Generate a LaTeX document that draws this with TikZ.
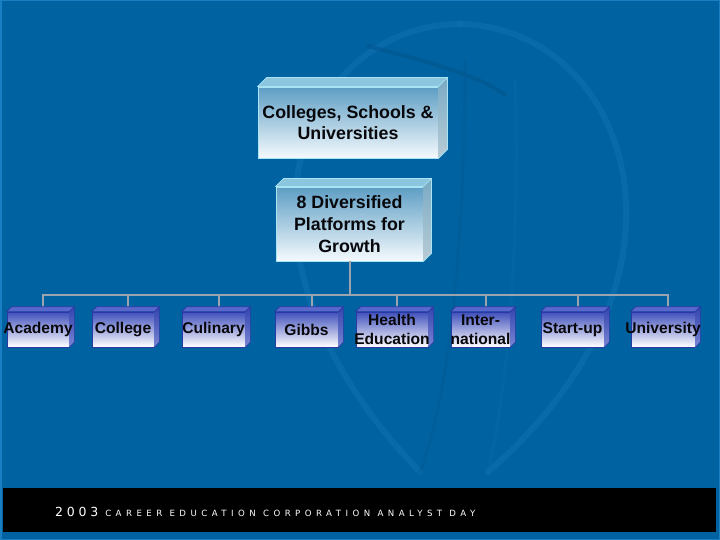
\documentclass[tikz,border=0pt]{standalone}
\usepackage{fontspec}
\setmainfont{Liberation Sans}
\newfontfamily\footA[LetterSpace=30]{DejaVu Sans}
\newfontfamily\footB[LetterSpace=52]{DejaVu Sans}
\usetikzlibrary{calc}
\definecolor{bg}{HTML}{0062A0}
\definecolor{rim}{HTML}{1A7EC2}
\definecolor{wmlight}{HTML}{0E6EAE}
\definecolor{wmdark}{HTML}{00578F}
\definecolor{edgecyan}{HTML}{A8E4F4}
\definecolor{bigtop}{HTML}{5E9EC4}
\definecolor{bigbot}{HTML}{F4FAFD}
\definecolor{bigface}{HTML}{8CC6DE}
\definecolor{bigsideA}{HTML}{7AAAC4}
\definecolor{bigsideB}{HTML}{B8CCD6}
\definecolor{smtop}{HTML}{4050BC}
\definecolor{smbot}{HTML}{FFFFFF}
\definecolor{smface}{HTML}{5A68CC}
\definecolor{smsideA}{HTML}{3444AE}
\definecolor{smsideB}{HTML}{7A86D4}
\definecolor{smedge}{HTML}{2A3AA4}
\definecolor{txt}{HTML}{08080C}
\definecolor{connc}{HTML}{9AA4AE}
\newcommand\zw[1]{\makebox[0pt]{#1}}
\newcommand\boxfaces[6]{%
  \filldraw[fill=#3, draw=#6, line width=0.7pt] (#1.north west) -- ++(#2,-#2) -- ($(#1.north east)+(#2,-#2)$) -- (#1.north east) -- cycle;
  \shade[top color=#4, bottom color=#5] (#1.north east) -- ++(#2,-#2) -- ($(#1.south east)+(#2,-#2)$) -- (#1.south east) -- cycle;
  \draw[#6, line width=0.7pt] (#1.north east) -- ++(#2,-#2) -- ($(#1.south east)+(#2,-#2)$) -- (#1.south east);
}
\begin{document}
\begin{tikzpicture}[x=1pt,y=-1pt,
  bigbox/.style={draw=edgecyan, line width=0.8pt, top color=bigtop, bottom color=bigbot, inner sep=0pt},
  bigtext/.style={inner sep=0pt, align=center, text=txt, font=\bfseries\fontsize{17.8}{21}\selectfont},
  smallbox/.style={draw=smedge, line width=0.7pt, top color=smtop, bottom color=smbot,
    inner sep=0pt, minimum height=35pt},
  smalltext/.style={inner sep=0pt, align=center, text=txt, font=\bfseries\fontsize{15.6}{19}\selectfont},
  conn/.style={draw=connc, line width=2pt},
  wm/.style={line cap=round}]
\fill[bg] (0,0) rectangle (720,540);
\useasboundingbox (0,0) rectangle (720,540);
\draw[rim, line width=3pt] (0,0) rectangle (720,540);
% faint globe watermark
\draw[wm, wmlight, line width=6pt, opacity=0.7] (459,24) .. controls (300,26) and (205,250) .. (420,472);
\draw[wm, wmlight, line width=6pt, opacity=0.7] (459,24) .. controls (625,26) and (720,270) .. (488,472);
\draw[wm, wmdark, line width=4pt, opacity=0.6] (368,46) .. controls (420,60) and (480,75) .. (505,95);
\draw[wm, wmdark, line width=3pt, opacity=0.3] (465,60) .. controls (465,200) and (455,380) .. (420,472);
\draw[wm, wmlight, line width=3pt, opacity=0.3] (515,80) .. controls (520,220) and (510,380) .. (488,472);
% top boxes
\node[bigbox, minimum width=180pt, minimum height=71pt] (p1) at (348,122.5) {};
\boxfaces{p1}{9}{bigface}{bigsideA}{bigsideB}{edgecyan}
\node[bigtext] (p1l) at (p1.center) {Colleges, Schools \&\\Universities};
\node[bigbox, minimum width=147pt, minimum height=74pt] (p2) at (349.5,224) {};
\boxfaces{p2}{8}{bigface}{bigsideA}{bigsideB}{edgecyan}
\node[bigtext, font=\bfseries\fontsize{17.8}{22}\selectfont] (p2l) at (p2.center) {8 Diversified\\Platforms for\\Growth};
% bus
\coordinate (bus) at (349.5,295);
\draw[conn] (p2.south) -- (bus);
\foreach \nm/\cx/\w/\lbl in {a/38/62/\zw{Academy}, b/123/62/\zw{College}, c/213.5/63/\zw{Culinary},
    d/306.5/63/\zw{Gibbs}, e/392/72/{\zw{Health}\\\zw{Education}}, f/480.5/59/{\zw{Inter-}\\\zw{national}},
    g/572.5/63/\zw{Start-up}, h/663/64/\zw{University}} {
  \coordinate (\nm t) at ($(\cx,312)+(5,-5)$);
  \draw[conn] (bus) -| (\nm t);
  \node[smallbox, minimum width=\w pt] (\nm) at (\cx,329.5) {};
  \boxfaces{\nm}{5}{smface}{smsideA}{smsideB}{smedge}
  \node[smalltext] (\nm l) at (\nm.center) {\lbl};
}
% footer
\fill[black] (3,488) rectangle (716,532);
\node[anchor=base west, text=white, inner sep=0pt] (ft) at (55,516.5)
  {\footA\fontsize{12.5}{13}\selectfont 2003\hspace{7pt}\footB\fontsize{8.6}{9}\selectfont CAREER EDUCATION CORPORATION ANALYST DAY};
\end{tikzpicture}
\end{document}
